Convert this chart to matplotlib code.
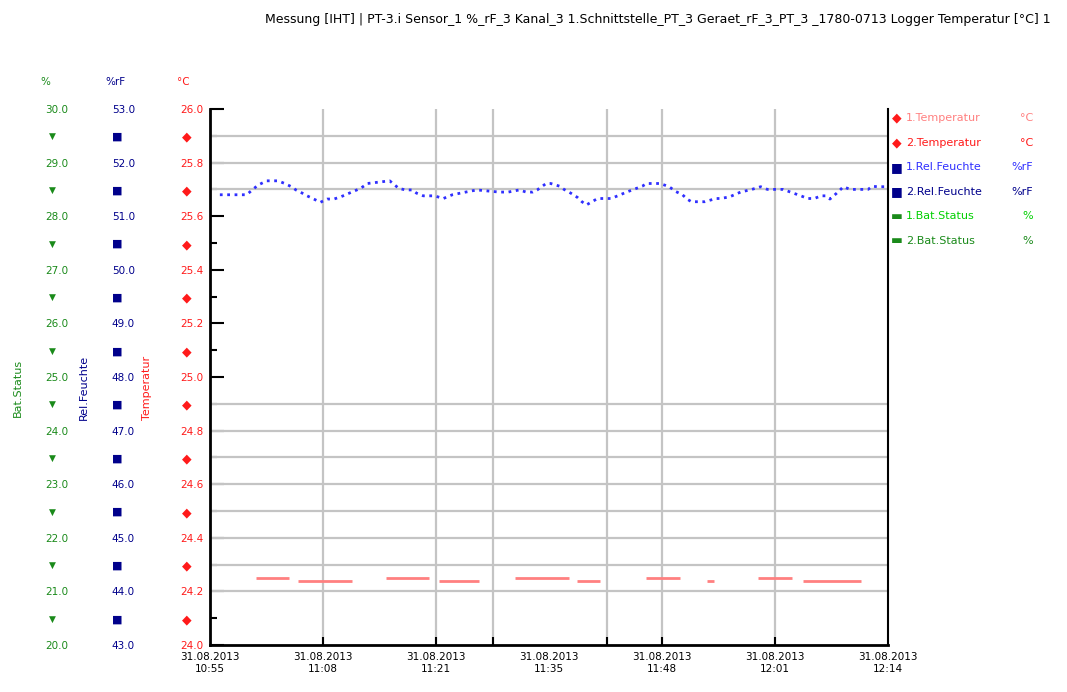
#!/usr/bin/env python3
"""
Logger plot: temperature / humidity / battery, three left scales
"""

import matplotlib
matplotlib.use("Agg")
import matplotlib.pyplot as plt

# ---- data (minutes after 31.08.2013 10:55) ----
title = ("Messung [IHT] | PT-3.i Sensor_1 %_rF_3 Kanal_3 1.Schnittstelle_PT_3 "
         "Geraet_rF_3_PT_3 _1780-0713 Logger Temperatur [°C] 1")

hum_min = [1.15, 2.45, 4.27, 5.59, 6.62, 7.92, 8.71, 9.49, 10.01, 10.53,
           11.31, 12.09, 12.87, 13.66, 14.44, 15.22, 16.52, 17.56, 18.34, 20.94,
           21.99, 22.77, 23.55, 24.07, 24.85, 26.15, 27.19, 28.24, 29.80, 31.10,
           33.70, 34.75, 36.05, 36.83, 37.61, 38.13, 39.17, 39.70, 40.73, 41.25,
           42.04, 42.82, 43.34, 43.86, 45.17, 46.73, 47.51, 48.55, 50.37, 50.89,
           52.45, 53.50, 54.28, 55.06, 55.58, 56.10, 57.66, 58.96, 59.49, 60.53,
           61.83, 63.14, 64.17, 64.95, 66.77, 67.81, 68.85, 69.64, 70.42, 71.21,
           71.72, 72.24, 73.03, 73.81, 74.59, 75.89, 76.68, 77.19, 77.71, 78.9]
hum_val = [51.40, 51.40, 51.40, 51.58, 51.66, 51.66, 51.61, 51.55, 51.49, 51.45,
           51.38, 51.32, 51.26, 51.32, 51.32, 51.36, 51.45, 51.52, 51.61, 51.66,
           51.52, 51.49, 51.49, 51.43, 51.38, 51.38, 51.33, 51.40, 51.45, 51.49,
           51.45, 51.45, 51.49, 51.45, 51.45, 51.49, 51.61, 51.61, 51.56, 51.50,
           51.43, 51.35, 51.27, 51.21, 51.33, 51.33, 51.38, 51.45, 51.56, 51.61,
           51.61, 51.55, 51.46, 51.40, 51.32, 51.27, 51.27, 51.33, 51.33, 51.36,
           51.45, 51.50, 51.55, 51.50, 51.50, 51.44, 51.38, 51.33, 51.33, 51.38,
           51.38, 51.32, 51.43, 51.55, 51.50, 51.50, 51.50, 51.56, 51.55, 51.55]

# temperature 1: constant stretches
temp_start = [5.32, 10.27, 20.53, 26.68, 35.53, 42.71, 50.79, 57.92, 63.81, 69.12]
temp_end = [9.22, 16.52, 25.48, 31.36, 41.78, 45.42, 54.80, 58.71, 67.81, 75.89]
temp_val = [24.25, 24.24, 24.25, 24.24, 24.25, 24.24, 24.25, 24.24, 24.25, 24.24]

# axis scales
x_tick_min = [0, 13.17, 26.33, 39.5, 52.67, 65.83, 79]
x_tick_lbl = ["31.08.2013\n10:55", "31.08.2013\n11:08", "31.08.2013\n11:21",
              "31.08.2013\n11:35", "31.08.2013\n11:48", "31.08.2013\n12:01",
              "31.08.2013\n12:14"]
x_grid_min = [13.2, 26.3, 33.0, 46.3, 52.7, 65.8]
hum_ticks = [53.0, 52.0, 51.0, 50.0, 49.0, 48.0, 47.0, 46.0, 45.0, 44.0, 43.0]
temp_ticks = [26.0, 25.8, 25.6, 25.4, 25.2, 25.0, 24.8, 24.6, 24.4, 24.2, 24.0]
bat_ticks = [30.0, 29.0, 28.0, 27.0, 26.0, 25.0, 24.0, 23.0, 22.0, 21.0, 20.0]
hum_grid = [52.5, 52.0, 51.5, 47.5, 47.0, 46.5, 46.0, 45.5, 45.0, 44.5, 44.0]

legend_names = ["1.Temperatur", "2.Temperatur", "1.Rel.Feuchte", "2.Rel.Feuchte",
                "1.Bat.Status", "2.Bat.Status"]
legend_units = ["°C", "°C", "%rF", "%rF", "%", "%"]

RED = "#ff1a1a"
PINK = "#ff8080"
BLUE = "#2f2fff"
NAVY = "#00008b"
LIME = "#00d000"
GREEN = "#1a8a1a"

fig = plt.figure(figsize=(10.67, 6.92), dpi=100)
ax = fig.add_axes([0.1968, 0.0679, 0.6354, 0.7746])
ax_t = ax.twinx()
ax_b = ax.twinx()

# humidity (main axes, blue labels)
ax.set_xlim(0, 79)
ax.set_ylim(43, 53)
ax.plot(hum_min, hum_val, ls=":", lw=2.0, color=BLUE, zorder=3)
for h in hum_grid:
    ax.axhline(h, color="#c4c4c4", lw=1.6, zorder=1)

# temperature on its own scale
ax_t.set_ylim(24, 26)
ax_t.hlines(temp_val, temp_start, temp_end, color=PINK, lw=2)
ax_b.set_ylim(20, 30)

# x axis
ax.set_xticks(x_tick_min)
ax.set_xticklabels(x_tick_lbl, fontsize=7.5)
ax.set_xticks(x_grid_min, minor=True)
ax.tick_params(axis="x", which="major", length=0, pad=5)
ax.tick_params(axis="x", which="minor", direction="in", length=6, width=1.5)
ax.grid(axis="x", which="minor", color="#c4c4c4", lw=1.6)
ax.set_axisbelow(True)

ax.spines["top"].set_visible(False)
ax.spines["left"].set_linewidth(2)
ax.spines["bottom"].set_linewidth(2)
ax.spines["right"].set_linewidth(1.5)
for a in (ax_t, ax_b):
    for s in a.spines.values():
        s.set_visible(False)


def label_column(a, ticks, color, fmt, marker, msize, pad, mpad, length, mlength):
    a.yaxis.tick_left()
    a.yaxis.set_label_position("left")
    a.set_yticks(ticks)
    a.set_yticklabels([fmt % t for t in ticks], color=color, fontsize=7.5)
    mids = [(ticks[i] + ticks[i + 1]) / 2 for i in range(len(ticks) - 1)]
    a.set_yticks(mids, minor=True)
    a.set_yticklabels([marker] * len(mids), minor=True, color=color, fontsize=msize)
    a.tick_params(axis="y", which="major", direction="in", length=length,
                  width=1.5, pad=pad, right=False)
    a.tick_params(axis="y", which="minor", direction="in", length=mlength,
                  width=1.5, pad=mpad, right=False)


label_column(ax, hum_ticks, NAVY, "%.1f", "■", 8, 54, 63, 10, 5)
label_column(ax_t, temp_ticks, RED, "%.1f", "◆", 9, 5, 13, 0, 0)
label_column(ax_b, bat_ticks, GREEN, "%.1f", "▼", 6.5, 102, 111, 0, 0)
ax.tick_params(axis="y", right=False)

ax_b.set_ylabel("Bat.Status", color=GREEN, fontsize=8)
ax_b.yaxis.set_label_coords(-0.276, 0.48)
ax.set_ylabel("Rel.Feuchte", color=NAVY, fontsize=8)
ax.yaxis.set_label_coords(-0.178, 0.48)
ax_t.set_ylabel("Temperatur", color=RED, fontsize=8)
ax_t.yaxis.set_label_coords(-0.0855, 0.48)

# units above the scales
ax.text(-0.243, 1.045, "%", color=GREEN, fontsize=7.5, ha="center",
        transform=ax.transAxes)
ax.text(-0.140, 1.045, "%rF", color=NAVY, fontsize=7.5, ha="center",
        transform=ax.transAxes)
ax.text(-0.040, 1.045, "°C", color=RED, fontsize=7.5, ha="center",
        transform=ax.transAxes)

# legend on the right
leg_marks = ["◆", "◆", "■", "■", "▬", "▬"]
leg_mcol = [RED, RED, NAVY, NAVY, GREEN, GREEN]
leg_tcol = [PINK, RED, BLUE, NAVY, LIME, GREEN]
for i, name in enumerate(legend_names):
    y = 0.983 - i * 0.0458
    ax.text(1.0133, y, leg_marks[i], color=leg_mcol[i], fontsize=9,
            ha="center", va="center", transform=ax.transAxes)
    ax.text(1.0265, y, name, color=leg_tcol[i], fontsize=8,
            ha="left", va="center", transform=ax.transAxes)
    ax.text(1.2139, y, legend_units[i], color=leg_tcol[i], fontsize=8,
            ha="right", va="center", transform=ax.transAxes)

fig.text(0.248, 0.972, title, ha="left", va="center", fontsize=9)

plt.savefig("out.png", dpi=100)
plt.close()
